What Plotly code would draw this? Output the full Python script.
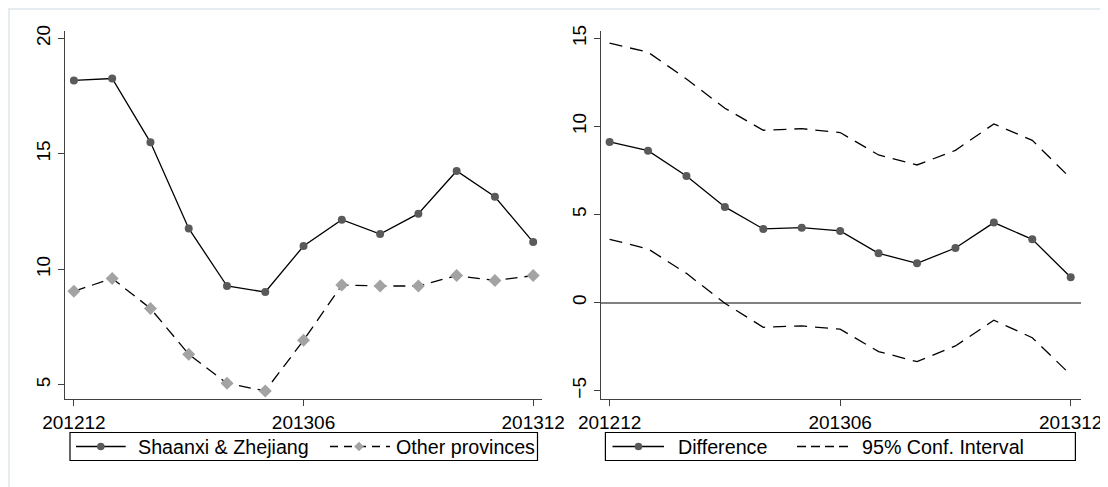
import plotly.graph_objects as go

# ---------------- data ----------------
months = ["201212", "201301", "201302", "201303", "201304", "201305", "201306",
          "201307", "201308", "201309", "201310", "201311", "201312"]
tick_months = ["201212", "201306", "201312"]

shaanxi_zhejiang = [18.18, 18.26, 15.50, 11.77, 9.28, 9.02, 11.01,
                    12.15, 11.53, 12.41, 14.26, 13.14, 11.18]
other_provinces = [9.05, 9.61, 8.31, 6.33, 5.07, 4.74, 6.93,
                   9.32, 9.28, 9.28, 9.73, 9.52, 9.73]

difference = [9.12, 8.62, 7.19, 5.43, 4.18, 4.25, 4.07,
              2.80, 2.23, 3.10, 4.54, 3.59, 1.44]
ci_upper = [14.72, 14.21, 12.69, 11.03, 9.78, 9.87, 9.65,
            8.38, 7.81, 8.64, 10.14, 9.21, 7.05]
ci_lower = [3.59, 3.05, 1.66, -0.04, -1.40, -1.32, -1.51,
            -2.78, -3.35, -2.46, -1.00, -1.99, -4.10]

left_yticks = [5, 10, 15, 20]
right_yticks = [-5, 0, 5, 10, 15]

legend_left = ["Shaanxi & Zhejiang", "Other provinces"]
legend_right = ["Difference", "95% Conf. Interval"]

# ---------------- styling ----------------
W, H = 1108, 487
OFF = 8  # page body margin of the html page
FONT = "Liberation Sans, Arial, sans-serif"
TICK_SIZE = 19
LEG_SIZE = 19.7
DOT = "#5a5a5a"
DIAM = "#a3a3a3"
AXIS = "#404040"


def px(x):
    return (x - OFF) / W


def py(y):
    return 1 - (y - OFF) / H


fig = go.Figure()

fig.add_trace(go.Scatter(x=months, y=shaanxi_zhejiang, mode="lines+markers",
                         line=dict(color="black", width=1.3),
                         marker=dict(symbol="circle", size=8, color=DOT),
                         name=legend_left[0], showlegend=False,
                         xaxis="x", yaxis="y"))
fig.add_trace(go.Scatter(x=months, y=other_provinces, mode="lines+markers",
                         line=dict(color="black", width=1.3, dash="12px,7px"),
                         marker=dict(symbol="diamond", size=10, color=DIAM),
                         name=legend_left[1], showlegend=False,
                         xaxis="x", yaxis="y"))

fig.add_trace(go.Scatter(x=months, y=ci_upper, mode="lines",
                         line=dict(color="black", width=1.3, dash="13px,8px"),
                         name=legend_right[1], showlegend=False,
                         xaxis="x2", yaxis="y2"))
fig.add_trace(go.Scatter(x=months, y=ci_lower, mode="lines",
                         line=dict(color="black", width=1.3, dash="13px,8px"),
                         name=legend_right[1], showlegend=False,
                         xaxis="x2", yaxis="y2"))
fig.add_trace(go.Scatter(x=months, y=difference, mode="lines+markers",
                         line=dict(color="black", width=1.3),
                         marker=dict(symbol="circle", size=8, color=DOT),
                         name=legend_right[0], showlegend=False,
                         xaxis="x2", yaxis="y2"))

ydom = [py(399), py(30.7)]

common_x = dict(type="category", tickmode="array", tickvals=tick_months,
                ticktext=tick_months, ticks="outside", ticklen=6,
                tickcolor=AXIS, showline=True, linecolor=AXIS, linewidth=1,
                showgrid=False, zeroline=False, automargin=False,
                tickfont=dict(size=TICK_SIZE, color="black", family=FONT))
common_y = dict(tickmode="array", ticks="outside", ticklen=6, tickcolor=AXIS,
                showline=True, linecolor=AXIS, linewidth=1, showgrid=False,
                tickangle=-90, domain=ydom, automargin=False,
                tickfont=dict(size=TICK_SIZE, color="black", family=FONT))

fig.update_layout(
    width=W, height=H,
    margin=dict(l=0, r=0, t=0, b=0, pad=0, autoexpand=False),
    paper_bgcolor="white", plot_bgcolor="white",
    font=dict(family=FONT, color="black"),
    showlegend=False,
    xaxis=dict(common_x, domain=[px(65), px(542)], range=[-0.2325, 12.23], anchor="y"),
    yaxis=dict(common_y, tickvals=left_yticks, range=[4.39, 20.33], anchor="x",
               zeroline=False),
    xaxis2=dict(common_x, domain=[px(600.7), px(1080.7)], range=[-0.2316, 12.26], anchor="y2"),
    yaxis2=dict(common_y, tickvals=right_yticks, range=[-5.47, 15.43], anchor="x2",
                zeroline=True, zerolinecolor="#808080", zerolinewidth=1.5),
)

shapes = []
annotations = []

# outer faint frame
shapes.append(dict(type="rect", xref="paper", yref="paper",
                   x0=px(9), x1=px(1104.5), y0=py(500), y1=py(9),
                   line=dict(color="#e6edf1", width=2), layer="below"))


def legend_box(x0, x1):
    shapes.append(dict(type="rect", xref="paper", yref="paper",
                       x0=px(x0), x1=px(x1), y0=py(460.5), y1=py(432.5),
                       line=dict(color="black", width=1.2)))


def leg_line(x0, x1, dash="solid"):
    shapes.append(dict(type="line", xref="paper", yref="paper",
                       x0=px(x0), x1=px(x1), y0=py(446.5), y1=py(446.5),
                       line=dict(color="black", width=1.3, dash=dash)))


def leg_circle(cx, r=3.8):
    shapes.append(dict(type="circle", xref="paper", yref="paper",
                       x0=px(cx - r), x1=px(cx + r), y0=py(446.5 + r), y1=py(446.5 - r),
                       fillcolor=DOT, line=dict(color=DOT, width=0)))


def leg_diamond(cx, r=4.8):
    cy = 446.5
    path = (f"M {px(cx - r)},{py(cy)} L {px(cx)},{py(cy - r)} "
            f"L {px(cx + r)},{py(cy)} L {px(cx)},{py(cy + r)} Z")
    shapes.append(dict(type="path", xref="paper", yref="paper", path=path,
                       fillcolor=DIAM, line=dict(color=DIAM, width=0)))


def leg_text(x, txt):
    annotations.append(dict(xref="paper", yref="paper", x=px(x), y=py(446.5),
                            xanchor="left", yanchor="middle", showarrow=False,
                            text=txt, font=dict(size=LEG_SIZE, color="black", family=FONT)))


# left legend
legend_box(70, 537.5)
leg_line(76, 125.7)
leg_circle(100.8)
leg_text(135.5, legend_left[0])
leg_line(330, 390, dash="8px,6px")
leg_diamond(359)
leg_text(394, legend_left[1])

# right legend
legend_box(605.4, 1075.4)
leg_line(612.5, 664)
leg_circle(638.5)
leg_text(675.5, legend_right[0])
leg_line(797, 850, dash="9px,5px")
leg_text(860, legend_right[1])

fig.update_layout(shapes=shapes, annotations=annotations)

fig.write_html("out.html")
